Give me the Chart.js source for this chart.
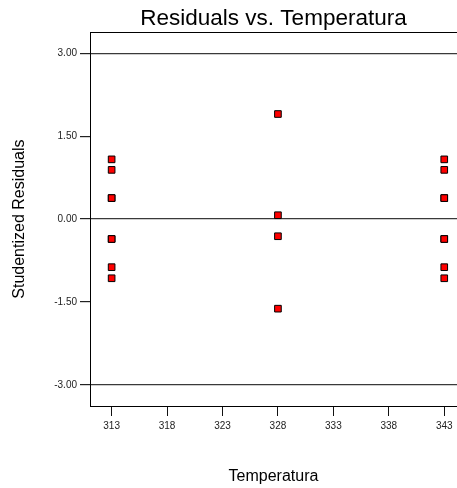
<!DOCTYPE html>
<html lang="en">

<head>
    <meta charset="UTF-8">
    <title>Residuals vs. Temperatura</title>
    <style>
        body { margin: 0; background: #fff; }
        canvas { display: block; }
    </style>
</head>

<body>
    <canvas id="myChart" width="457" height="488"></canvas>

    <script src="https://cdn.jsdelivr.net/npm/chart.js"></script>
    <script>
        // 데이터
        let v_temps = [313, 313, 313, 313, 313, 313, 313, 313,
            328, 328, 328, 328,
            343, 343, 343, 343, 343, 343, 343, 343];
        let v_resid = [1.08, 0.89, 0.38, 0.38, -0.36, -0.36, -0.87, -1.07,
            1.90, 0.07, -0.31, -1.62,
            1.08, 0.89, 0.38, 0.38, -0.36, -0.36, -0.87, -1.07];
        let v_xTicks = [313, 318, 323, 328, 333, 338, 343];
        let v_yTicks = [-3, -1.5, 0, 1.5, 3];
        let v_refLines = [-3, 0, 3];

        let v_points = [];
        for (let i = 0; i < v_temps.length; i++) {
            v_points.push({ x: v_temps[i], y: v_resid[i] });
        }

        let v_font = 'Liberation Sans, Arial, sans-serif';

        let ctx = document.getElementById('myChart');
        new Chart(ctx, {
            type: 'scatter',
            data: {
                datasets: [{
                    data: v_points,
                    pointStyle: 'rect',
                    pointRadius: 4.7,
                    pointHoverRadius: 4.7,
                    backgroundColor: '#ff0000',
                    borderColor: '#000',
                    borderWidth: 1
                }]
            },
            options: {
                responsive: false,
                animation: false,
                layout: { padding: 0, autoPadding: false },
                plugins: {
                    legend: { display: false },
                    tooltip: { enabled: false },
                    title: {
                        display: true,
                        text: 'Residuals vs. Temperatura',
                        fullSize: false,
                        color: '#000',
                        font: { family: v_font, size: 22.5, weight: 'normal', lineHeight: 1.15 },
                        padding: { top: 6.3, bottom: 0 }
                    }
                },
                scales: {
                    x: {
                        type: 'linear',
                        position: 'bottom',
                        min: 311.05,
                        max: 344.15,
                        afterBuildTicks: (s) => { s.ticks = v_xTicks.map(v => ({ value: v })); },
                        afterFit: (s) => { s.height = 82; },
                        ticks: {
                            color: '#222',
                            padding: 4,
                            maxRotation: 0,
                            font: { family: v_font, size: 10 },
                            callback: (v) => String(v)
                        },
                        grid: {
                            color: 'rgba(0,0,0,0)',
                            tickColor: '#111',
                            tickLength: 10,
                            drawTicks: true
                        },
                        border: { display: true, color: '#000', width: 1 },
                        title: {
                            display: true,
                            text: 'Temperatura',
                            color: '#000',
                            font: { family: v_font, size: 16 },
                            padding: { top: 0, bottom: 2 }
                        }
                    },
                    x2: {
                        type: 'linear',
                        position: 'top',
                        min: 311.05,
                        max: 344.15,
                        afterFit: (s) => { s.height = 0; },
                        ticks: { display: false },
                        grid: { display: false },
                        border: { display: true, color: '#000', width: 1 }
                    },
                    y: {
                        type: 'linear',
                        min: -3.38,
                        max: 3.38,
                        afterBuildTicks: (s) => { s.ticks = v_yTicks.map(v => ({ value: v })); },
                        afterFit: (s) => { s.width = 90; },
                        ticks: {
                            color: '#222',
                            padding: 3,
                            font: { family: v_font, size: 10 },
                            callback: (v) => Number(v).toFixed(2)
                        },
                        grid: {
                            // 기준선은 -3, 0, 3 에만
                            color: (c) => (c.tick && v_refLines.includes(c.tick.value)) ? '#3a3a3a' : 'rgba(0,0,0,0)',
                            lineWidth: 1.2,
                            tickColor: '#222',
                            tickLength: 10,
                            drawTicks: true
                        },
                        border: { display: true, color: '#000', width: 1 },
                        title: {
                            display: true,
                            text: 'Studentized Residuals',
                            color: '#000',
                            font: { family: v_font, size: 16 },
                            padding: { top: 10, bottom: 0 }
                        }
                    }
                }
            }
        });
    </script>
</body>

</html>
